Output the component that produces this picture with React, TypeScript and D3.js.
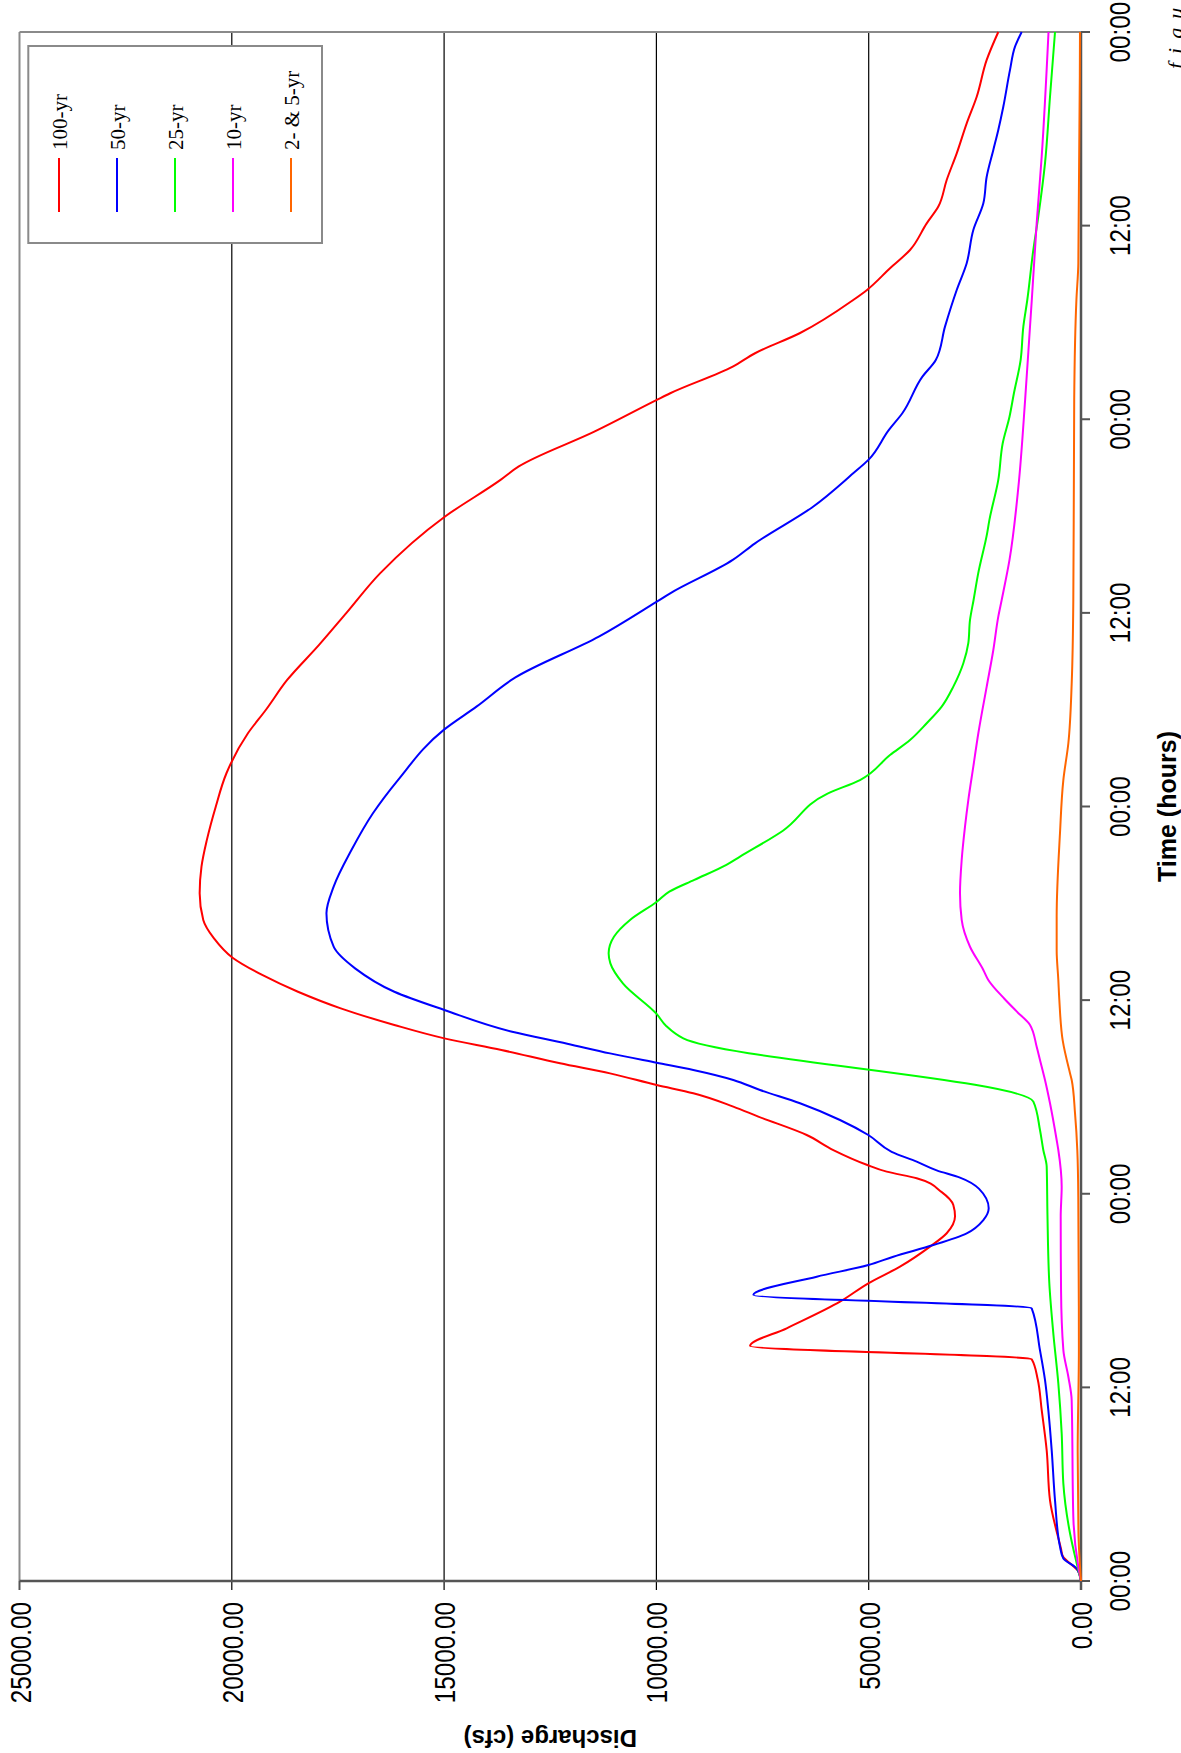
import React from "react";
import * as d3 from "d3";

// ---- data (time in hours, discharge in cfs) ----
const timeTicks = [0, 12, 24, 36, 48, 60, 72, 84, 96];
const timeTickLabels = ["00:00", "12:00", "00:00", "12:00", "00:00", "12:00", "00:00", "12:00", "00:00"];
const dischargeTicks = [0, 5000, 10000, 15000, 20000, 25000];
const gridValues = [5000, 10000, 15000, 20000];

const seriesNames = ["100-yr", "50-yr", "25-yr", "10-yr", "2- & 5-yr"];
const seriesColors = ["#FF0000", "#0000FF", "#00FF00", "#FF00FF", "#FF6600"];

const hundredYrT = [0, 0.6, 1.55, 2.0, 5.0, 8.1, 10.6, 12.5, 13.74, 14.56, 15.66, 17.31, 18.45, 19.48, 20.72, 21.55, 22.6, 23.3, 24.1, 24.96, 25.37, 25.8, 26.71, 27.64, 28.78, 29.4, 30.23, 30.74, 31.46, 32.09, 32.91, 33.63, 34.46, 35.49, 36.52, 37.56, 38.63, 39.83, 40.97, 42.62, 44.27, 45.93, 47.99, 50.06, 52.54, 53.98, 55.84, 58.0, 60.0, 62.45, 65.96, 68.24, 69.06, 71.23, 73.2, 73.61, 75.26, 76.09, 77.33, 79.39, 80.0, 81.36, 82.49, 84.14, 85.18, 86.83, 88.48, 90.34, 91.99, 94.27, 96.0];
const hundredYrQ = [0, 64, 431, 471, 730, 808, 926, 1020, 1161, 7795, 6931, 5676, 5009, 4263, 3556, 3163, 2967, 3007, 3280, 3870, 4576, 5047, 5833, 6461, 7600, 8189, 9131, 9993, 11092, 12270, 13650, 14994, 16172, 17434, 18442, 19285, 19982, 20420, 20672, 20757, 20714, 20587, 20378, 20126, 19620, 19200, 18696, 17950, 17300, 16509, 14985, 13671, 13250, 11462, 9990, 9675, 8202, 7677, 6627, 5365, 5047, 4498, 4027, 3634, 3360, 3163, 2927, 2692, 2456, 2221, 1948];

const fiftyYrT = [0, 0.78, 1.4, 2.13, 5.0, 8.1, 10.6, 12.46, 14.3, 16.9, 17.73, 18.86, 19.58, 20.1, 20.82, 21.55, 22.37, 23.1, 24.3, 25.0, 25.45, 25.99, 26.6, 27.64, 28.57, 29.61, 30.43, 31.05, 31.67, 32.12, 32.7, 33.3, 34.04, 35.39, 36.52, 37.97, 39.31, 41.38, 43.03, 45.3, 47.58, 49.64, 52.78, 54.19, 56.0, 58.53, 60.7, 61.21, 63.28, 64.31, 66.58, 68.65, 69.48, 71.34, 72.37, 74.64, 75.67, 77.74, 80.01, 81.67, 83.73, 85.38, 87.03, 88.69, 89.93, 91.37, 93.65, 95.09, 96.0];
const fiftyYrQ = [0, 102, 416, 495, 612, 690, 770, 848, 966, 1161, 7717, 6224, 5009, 4420, 3478, 2692, 2300, 2174, 2400, 2850, 3399, 3870, 4460, 5009, 5676, 6618, 7560, 8189, 9131, 9993, 11092, 12100, 13398, 14994, 16172, 17097, 17601, 17771, 17601, 17182, 16676, 16087, 14994, 14238, 13320, 11356, 9990, 9675, 8202, 7677, 6311, 5365, 5007, 4524, 4208, 3735, 3420, 3203, 2927, 2692, 2536, 2300, 2221, 2065, 1948, 1830, 1672, 1554, 1397];

const twentyFiveYrT = [0, 1.1, 2.96, 6.05, 9.15, 12.25, 15.35, 18.45, 22.7, 25.68, 26.71, 27.95, 29.71, 33.63, 34.4, 35.13, 37.04, 38.28, 38.9, 39.93, 40.97, 42.1, 42.72, 43.45, 44.38, 44.89, 46.5, 48.8, 49.64, 51.19, 52.12, 53.16, 54.19, 55.43, 56.88, 58.12, 59.56, 60.8, 62.45, 64.93, 65.76, 68.24, 70.51, 72.16, 73.61, 75.67, 77.74, 79.39, 82.49, 84.56, 87.86, 91.99, 96.0];
const twentyFiveYrQ = [0, 102, 259, 416, 455, 534, 652, 746, 790, 808, 888, 966, 1122, 9366, 9770, 9990, 10789, 11084, 11125, 11000, 10621, 9990, 9696, 9107, 8351, 8031, 7020, 5970, 5205, 4498, 4027, 3634, 3281, 3007, 2771, 2654, 2614, 2530, 2421, 2211, 2157, 1948, 1844, 1684, 1580, 1422, 1358, 1265, 1123, 1006, 848, 730, 612];

const tenYrT = [0, 0.89, 3.99, 11.22, 12.66, 14.32, 18.0, 22.58, 24.44, 26.71, 27.33, 29.61, 31.05, 32.29, 33.11, 34.46, 35.3, 36.1, 37.25, 37.87, 39.31, 40.97, 42.62, 44.69, 46.75, 48.4, 50.47, 52.54, 55.43, 57.7, 59.77, 60.8, 63.28, 67.82, 73.2, 77.74, 79.39, 84.14, 88.27, 96.0];
const tenYrQ = [0, 64, 181, 220, 298, 416, 470, 478, 455, 534, 573, 730, 848, 966, 1044, 1201, 1515, 1810, 2183, 2300, 2614, 2810, 2850, 2810, 2732, 2654, 2536, 2418, 2221, 2065, 1948, 1868, 1684, 1474, 1316, 1201, 1159, 1044, 926, 765];

const twoFiveYrT = [0, 3, 8, 14.3, 23.8, 26.7, 29.0, 31.05, 31.47, 33.5, 36.0, 37.25, 39.1, 41.17, 46.34, 49.64, 51.92, 55.64, 60.8, 73.2, 79.4, 81.67, 96];
const twoFiveYrQ = [0, 60, 78, 50, 64, 87, 141, 219, 259, 431, 510, 534, 573, 573, 495, 416, 298, 219, 181, 160, 108, 63, 24];

const seriesT = [hundredYrT, fiftyYrT, twentyFiveYrT, tenYrT, twoFiveYrT];
const seriesQ = [hundredYrQ, fiftyYrQ, twentyFiveYrQ, tenYrQ, twoFiveYrQ];

// ---- layout ----
const W = 1549; // time axis length (drawn vertically on screen)
const H = 1061.5; // discharge axis length (drawn horizontally on screen)
const sans = "'Liberation Sans', Arial, Helvetica, sans-serif";
const serif = "'Liberation Serif', 'Times New Roman', Times, serif";

export default function App() {
  const x = d3.scaleLinear().domain([0, 96]).range([0, W]);
  const y = d3.scaleLinear().domain([0, 25000]).range([H, 0]);
  const line = d3
    .line<[number, number]>()
    .x((d) => x(d[0]))
    .y((d) => y(d[1]))
    .curve(d3.curveMonotoneX);

  const fmt = (v: number) => v.toFixed(2);

  return (
    <svg
      width={1181}
      height={1753}
      style={{ position: "absolute", left: 0, top: 0, background: "#fff" }}
      xmlns="http://www.w3.org/2000/svg"
    >
      <rect x={0} y={0} width={1181} height={1753} fill="#fff" />
      <g transform="translate(19.5,1581) rotate(-90)">
        {/* gridlines with outward ticks */}
        {gridValues.map((v) => (
          <line key={"g" + v} x1={-9} x2={W} y1={y(v)} y2={y(v)} stroke="#000" strokeWidth={1.2} />
        ))}
        {/* frame */}
        <line x1={0} x2={W} y1={0} y2={0} stroke="#8a8a8a" strokeWidth={2} />
        <line x1={W} x2={W} y1={0} y2={H + 9} stroke="#8a8a8a" strokeWidth={2} />
        {/* discharge axis (screen bottom) */}
        <line x1={0} x2={0} y1={0} y2={H} stroke="#555" strokeWidth={2.5} />
        {[0, 25000].map((v) => (
          <line key={"et" + v} x1={-9} x2={0} y1={y(v)} y2={y(v)} stroke="#555" strokeWidth={2} />
        ))}
        {/* time axis (screen right) */}
        <line x1={-9} x2={W} y1={H} y2={H} stroke="#555" strokeWidth={2.5} />
        {timeTicks.map((t) => (
          <line key={"tt" + t} x1={x(t)} x2={x(t)} y1={H} y2={H + 9} stroke="#555" strokeWidth={2} />
        ))}

        {/* series */}
        {seriesT.map((ts, i) => (
          <path
            key={"s" + i}
            d={line(ts.map((t, j) => [t, seriesQ[i][j]] as [number, number])) || ""}
            fill="none"
            stroke={seriesColors[i]}
            strokeWidth={2}
            strokeLinejoin="round"
          />
        ))}

        {/* discharge tick labels */}
        {dischargeTicks.map((v) => (
          <text
            key={"dl" + v}
            transform={`translate(-21,${y(v) + 11}) scale(0.81,1)`}
            textAnchor="end"
            fontFamily={sans}
            fontSize={30}
            fill="#000"
          >
            {fmt(v)}
          </text>
        ))}
        {/* time tick labels */}
        {timeTicks.map((t, i) => (
          <text
            key={"tl" + t}
            transform={`translate(${x(t)},${H + 49}) scale(0.81,1)`}
            textAnchor="middle"
            fontFamily={sans}
            fontSize={30}
            fill="#000"
          >
            {timeTickLabels[i]}
          </text>
        ))}

        {/* axis titles */}
        <text x={W / 2} y={H + 95} textAnchor="middle" fontFamily={sans} fontWeight="bold" fontSize={25} fill="#000">
          Time (hours)
        </text>
        <text
          transform={`translate(-149,${H / 2}) rotate(-90)`}
          textAnchor="middle"
          fontFamily={sans}
          fontWeight="bold"
          fontSize={24}
          fill="#000"
        >
          Discharge (cfs)
        </text>

        {/* legend */}
        <rect x={1338} y={8.8} width={197} height={293.7} fill="#fff" stroke="#8a8a8a" strokeWidth={2} />
        {seriesNames.map((name, i) => (
          <g key={"lg" + i}>
            <line x1={1369} x2={1423} y1={39.5 + 58 * i} y2={39.5 + 58 * i} stroke={seriesColors[i]} strokeWidth={2} />
            <text x={1431} y={39.5 + 58 * i + 7.5} fontFamily={serif} fontSize={21} fill="#000">
              {name}
            </text>
          </g>
        ))}

        {/* figure caption, partly off the page */}
        <text x={1512} y={1163.5} fontFamily={serif} fontStyle="italic" fontSize={22} letterSpacing={9} fill="#000">
          figure
        </text>
      </g>
    </svg>
  );
}
